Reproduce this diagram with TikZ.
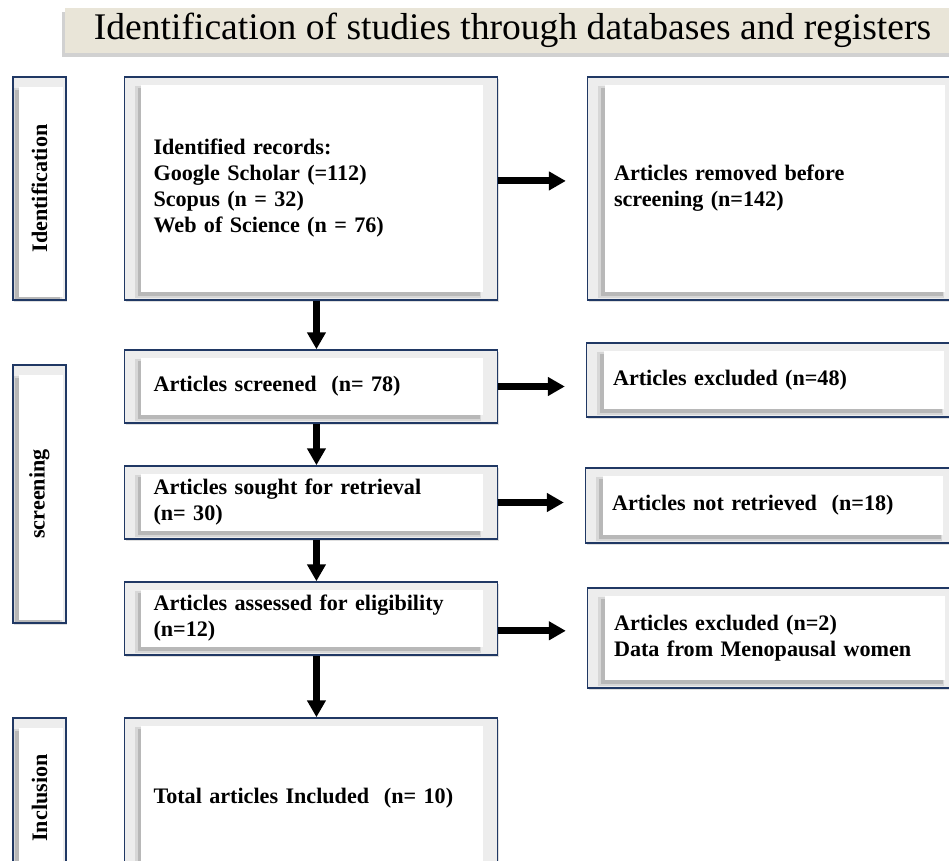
\documentclass[tikz,border=0pt]{standalone}
\usepackage{fontspec}
\setmainfont{Liberation Serif}
\usetikzlibrary{positioning, arrows.meta, shadows}

\definecolor{boxnavy}{HTML}{203864}
\definecolor{boxgray}{HTML}{EDEDED}
\definecolor{shadowgray}{HTML}{7F7F7F}
\definecolor{titlebeige}{HTML}{E9E5D8}

\newcommand{\prismafont}{\fontsize{12.6}{14.8}\selectfont\bfseries}

\begin{document}
\begin{tikzpicture}[x=0.02cm, y=-0.02cm, every node/.style={font=\prismafont},
  innerpane/.style n args={4}{path picture={
    \fill[shadowgray, opacity=0.2] ([shift={(#1-3.6pt, #2-3.4pt)}]path picture bounding box.south west) rectangle ([shift={(-#3-0.6pt, -#4-0.8pt)}]path picture bounding box.north east);
    \fill[shadowgray, opacity=0.35] ([shift={(#1-2.2pt, #2-2.2pt)}]path picture bounding box.south west) rectangle ([shift={(-#3-1.6pt, -#4-1.6pt)}]path picture bounding box.north east);
    \fill[white] ([shift={(#1, #2)}]path picture bounding box.south west) rectangle ([shift={(-#3, -#4)}]path picture bounding box.north east);
  }},
  panel/.style={draw=boxnavy, line width=0.9pt, fill=boxgray, inner ysep=0pt,
    drop shadow={shadow xshift=0.8pt, shadow yshift=-1.2pt, opacity=0.25}},
  stagebox/.style={panel, minimum height=#1, text width=6.3cm, inner xsep=16.5pt, align=left,
    innerpane={9.6pt}{4.5pt}{8.5pt}{4.5pt}},
  sidebox/.style={panel, minimum height=#1, minimum width=1.06cm, inner xsep=0pt, align=center,
    innerpane={3.4pt}{1.7pt}{1.7pt}{5.7pt}},
  outbox/.style={panel, minimum height=#1, text width=6.4cm, inner xsep=15pt, align=left,
    innerpane={9.6pt}{4.5pt}{8.5pt}{4.5pt}},
  titlebar/.style={fill=titlebeige, minimum width=17.9cm, minimum height=0.9cm, inner sep=0pt,
    font=\fontsize{21.4}{24}\selectfont,
    drop shadow={shadow xshift=-1.5pt, shadow yshift=-2pt, opacity=0.3, fill=black!60}},
  flowdown/.style={line width=4pt, -{Triangle[length=9.6pt, width=10.2pt]}},
  flowright/.style={flowdown, shorten >=12pt}]

\useasboundingbox (0,0) rectangle (949,861);
\clip (0,0) rectangle (949,861);

% --- Title ---
\node[titlebar] (title) at (512.5,30.5) {Identification of studies through databases and registers};

% --- Stage labels (left) ---
\node[sidebox=4.46cm] (idl) at (39.5,188.5) {\rotatebox{90}{Identification}};
\node[sidebox=5.16cm] (scl) at (39.5,494) {\rotatebox{90}{screening}};
\node[sidebox=3.2cm] (inl) at (39.5,798) {\rotatebox{90}{Inclusion}};

% --- Main flow ---
\node[stagebox=4.46cm] (rec) at (311,188.5) {Identified records:\\ Google Scholar (=112)\\ Scopus (n = 32)\\ Web of Science (n = 76)};
\node[stagebox=1.46cm] (scr) at (311,386.5) {Articles screened~~(n=~78)};
\node[stagebox=1.46cm] (sgt) at (311,502.5) {Articles sought for retrieval\\ (n=~30)};
\node[stagebox=1.46cm] (elig) at (311,618.5) {Articles assessed for eligibility\\ (n=12)};
\node[stagebox=3.2cm] (incl) at (311,798) {Total articles Included~~(n=~10)};

% --- Removed / excluded (right) ---
\node[outbox=4.46cm] (rem) at (774,188.5) {Articles removed before\\ screening (n=142)};
\node[outbox=1.48cm] (exc1) at (773,380) {Articles excluded (n=48)};
\node[outbox=1.5cm] (nret) at (772,505.5) {Articles not retrieved~~(n=18)};
\node[outbox=2cm] (exc2) at (774,638) {Articles excluded (n=2)\\ Data from Menopausal women};

% --- Arrows ---
\draw[flowdown] ([xshift=3.1pt]rec.south) -- ([xshift=3.1pt]scr.north);
\draw[flowdown] ([xshift=3.1pt]scr.south) -- ([xshift=3.1pt]sgt.north);
\draw[flowdown] ([xshift=3.1pt]sgt.south) -- ([xshift=3.1pt]elig.north);
\draw[flowdown] ([xshift=3.1pt]elig.south) -- ([xshift=3.1pt]incl.north);

\draw[flowright] ([yshift=4.3pt]rec.east) -- ([yshift=4.3pt]rec.east -| rem.west);
\draw[flowright] (scr.east) -- (scr.east -| exc1.west);
\draw[flowright] (sgt.east) -- (sgt.east -| nret.west);
\draw[flowright] ([yshift=-7pt]elig.east) -- ([yshift=-7pt]elig.east -| exc2.west);

\end{tikzpicture}
\end{document}
